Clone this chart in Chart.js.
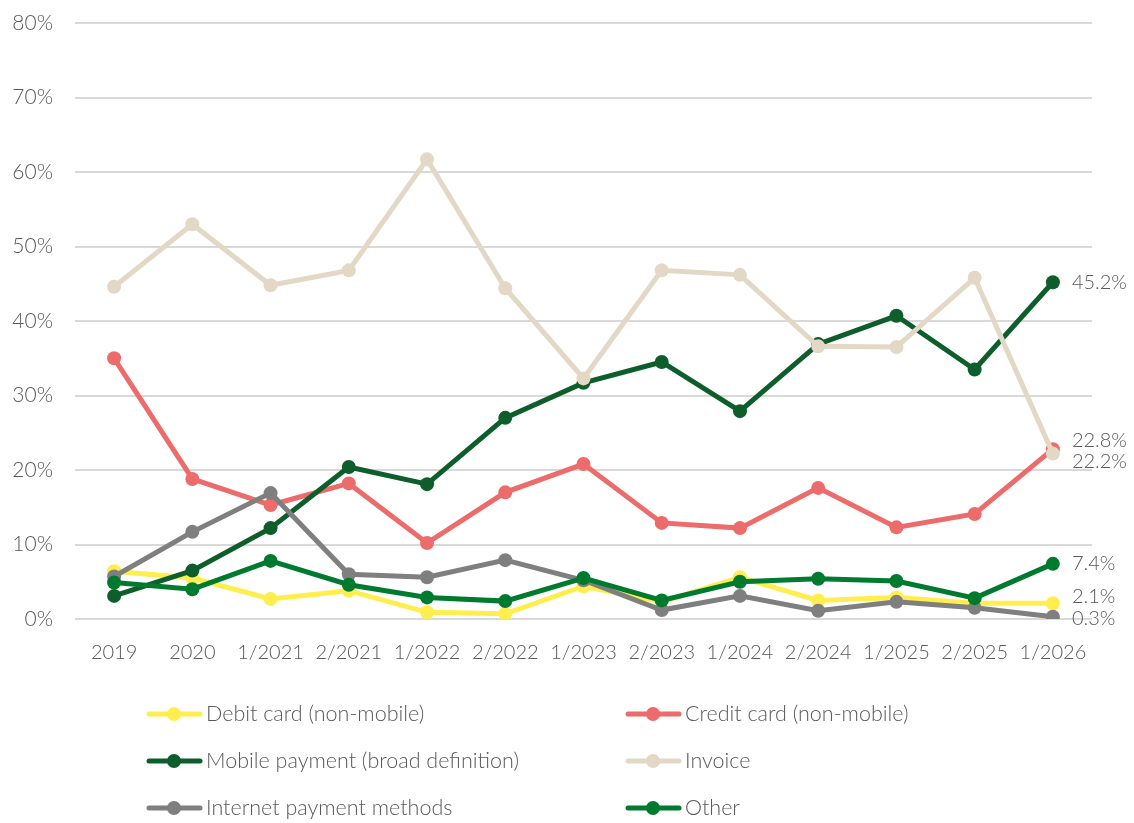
<!DOCTYPE html>
<html>
<head>
<meta charset="utf-8">
<script src="https://cdn.jsdelivr.net/npm/chart.js@4.4.1/dist/chart.umd.min.js"></script>
<style>
  html, body { margin: 0; padding: 0; background: #ffffff; }
  #wrap { width: 1134px; height: 823px; position: relative; }
</style>
</head>
<body>
<div id="wrap"><canvas id="chart" width="1134" height="823"></canvas></div>
<script>
// Survey periods
const periods = ['2019', '2020', '1/2021', '2/2021', '1/2022', '2/2022', '1/2023', '2/2023', '1/2024', '2/2024', '1/2025', '2/2025', '1/2026'];

// Share of respondents by payment method (%)
const debitCard     = [6.4, 5.5, 2.7, 3.8, 0.9, 0.7, 4.4, 2.3, 5.6, 2.5, 2.9, 2.1, 2.1];
const creditCard    = [35.0, 18.8, 15.3, 18.2, 10.2, 17.0, 20.8, 12.9, 12.2, 17.6, 12.3, 14.1, 22.8];
const mobilePayment = [3.1, 6.5, 12.2, 20.4, 18.1, 27.0, 31.7, 34.5, 27.9, 36.9, 40.7, 33.5, 45.2];
const invoice       = [44.6, 53.0, 44.8, 46.8, 61.7, 44.4, 32.3, 46.8, 46.2, 36.6, 36.5, 45.8, 22.2];
const internetPay   = [5.7, 11.7, 16.9, 6.0, 5.6, 7.9, 5.2, 1.2, 3.1, 1.1, 2.3, 1.5, 0.3];
const other         = [4.9, 4.0, 7.8, 4.6, 2.9, 2.4, 5.5, 2.5, 5.0, 5.4, 5.1, 2.8, 7.4];

const seriesNames = ['Debit card (non-mobile)', 'Credit card (non-mobile)', 'Mobile payment (broad definition)', 'Invoice', 'Internet payment methods', 'Other'];
const seriesValues = [debitCard, creditCard, mobilePayment, invoice, internetPay, other];
const seriesColors = ['#FFEE4D', '#EC6B6B', '#0D5E2B', '#E2D8C5', '#7F7F7F', '#007A2F'];

const textColor = '#595959';
const fontFamily = "'Lato', 'Open Sans', sans-serif";

const datasets = seriesNames.map((name, i) => ({
  label: name,
  data: seriesValues[i],
  borderColor: seriesColors[i],
  backgroundColor: seriesColors[i],
  borderWidth: 5,
  pointRadius: 7,
  pointHoverRadius: 7,
  pointBorderWidth: 0,
  tension: 0,
  order: seriesNames.length - i
}));

// Small vertical nudges so the end labels do not collide
const endLabelNudge = [-7, 0, 0, 0, 2, 0];
const endLabelNudgeByValue = { 22.8: -9, 22.2: 8 };

const endLabels = {
  id: 'endLabels',
  afterDatasetsDraw(chart) {
    const ctx = chart.ctx;
    ctx.save();
    ctx.font = `300 20px ${fontFamily}`;
    ctx.fillStyle = textColor;
    ctx.textAlign = 'left';
    ctx.textBaseline = 'middle';
    chart.data.datasets.forEach((ds, i) => {
      const meta = chart.getDatasetMeta(i);
      const last = meta.data[meta.data.length - 1];
      const v = ds.data[ds.data.length - 1];
      let dy = endLabelNudge[i];
      if (endLabelNudgeByValue[v] !== undefined) dy = endLabelNudgeByValue[v];
      ctx.fillText(v.toFixed(1) + '%', last.x + 19, last.y + dy);
    });
    ctx.restore();
  }
};

// Two-column legend beneath the plot
const gridLegend = {
  id: 'gridLegend',
  afterDraw(chart) {
    const ctx = chart.ctx;
    const colX = [147, 626];
    const rowY = [714, 761, 808];
    ctx.save();
    ctx.font = `300 21.5px ${fontFamily}`;
    ctx.textBaseline = 'middle';
    ctx.textAlign = 'left';
    chart.data.datasets.forEach((ds, i) => {
      const x = colX[i % 2];
      const y = rowY[Math.floor(i / 2)];
      ctx.strokeStyle = ds.borderColor;
      ctx.lineWidth = 5;
      ctx.lineCap = 'round';
      ctx.beginPath();
      ctx.moveTo(x + 2, y);
      ctx.lineTo(x + 53, y);
      ctx.stroke();
      ctx.fillStyle = ds.backgroundColor;
      ctx.beginPath();
      ctx.arc(x + 27, y, 7, 0, Math.PI * 2);
      ctx.fill();
      ctx.fillStyle = textColor;
      ctx.fillText(ds.label, x + 59, y);
    });
    ctx.restore();
  }
};

new Chart(document.getElementById('chart'), {
  type: 'line',
  data: { labels: periods, datasets },
  options: {
    responsive: false,
    animation: false,
    layout: { padding: { top: 0, right: 42, bottom: 154, left: 0 } },
    plugins: {
      legend: { display: false },
      tooltip: { enabled: false }
    },
    scales: {
      x: {
        offset: true,
        grid: { display: false },
        border: { display: false },
        ticks: {
          color: textColor,
          font: { family: fontFamily, size: 20, weight: 300 },
          padding: 14,
          maxRotation: 0,
          autoSkip: false
        },
        afterFit(scale) { scale.height = 50; }
      },
      y: {
        min: 0,
        max: 80,
        grid: { color: '#D9D9D9', lineWidth: 2, drawTicks: false },
        border: { display: false },
        ticks: {
          stepSize: 10,
          color: textColor,
          font: { family: fontFamily, size: 21, weight: 300, lineHeight: 0.1 },
          padding: 22,
          callback: v => v + '%'
        },
        afterFit(scale) { scale.width = 75; }
      }
    }
  },
  plugins: [endLabels, gridLegend]
});
</script>
</body>
</html>
